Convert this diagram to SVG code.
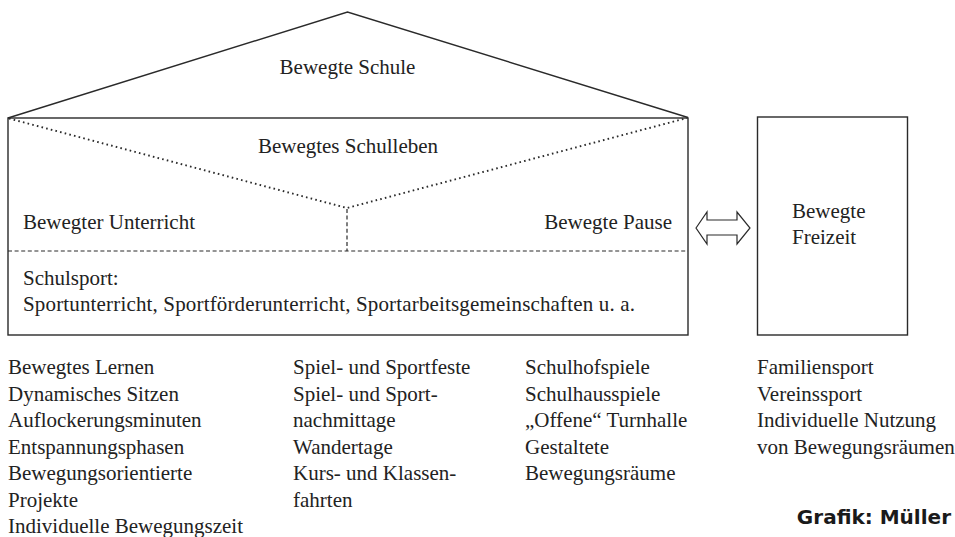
<svg xmlns="http://www.w3.org/2000/svg" width="955" height="537" viewBox="0 0 955 537">
  <style>
    .t { font-family: "Liberation Serif", "Times New Roman", serif; font-size: 21px; fill: #222; }
    .solid { fill: none; stroke: #2a2a2a; stroke-width: 1.4; }
    .dotted { fill: none; stroke: #2a2a2a; stroke-width: 1.9; stroke-dasharray: 1.6 3.2; }
    .dashed { fill: none; stroke: #2a2a2a; stroke-width: 1.2; stroke-dasharray: 4 2.6; }
    .credit { font-family: "DejaVu Sans", "Liberation Sans", sans-serif; font-size: 20px; font-weight: bold; fill: #1a1a1a; }
  </style>
  <rect width="955" height="537" fill="#ffffff"/>

  <g id="house">
    <polyline class="solid" points="8,118 347.5,12 688,117.5"/>
    <rect class="solid" x="8" y="118" width="680" height="217"/>
    <polyline class="dotted" points="9,118.5 347,208 687,118"/>
    <line class="dashed" x1="347" y1="209" x2="347" y2="251"/>
    <line class="dashed" x1="8" y1="251" x2="688" y2="251"/>
  </g>

  <g id="bewegte-schule">
    <text class="t" x="347.5" y="74" text-anchor="middle">Bewegte Schule</text>
  </g>
  <g id="bewegtes-schulleben">
    <text class="t" x="348" y="153" text-anchor="middle">Bewegtes Schulleben</text>
  </g>
  <g id="bewegter-unterricht">
    <text class="t" x="23" y="229">Bewegter Unterricht</text>
  </g>
  <g id="bewegte-pause">
    <text class="t" x="672" y="229" text-anchor="end">Bewegte Pause</text>
  </g>
  <g id="schulsport">
    <text class="t" x="23" y="285">Schulsport:</text>
    <text class="t" x="23" y="311" textLength="612" lengthAdjust="spacing">Sportunterricht, Sportförderunterricht, Sportarbeitsgemeinschaften u. a.</text>
  </g>

  <g id="bewegte-freizeit">
    <rect class="solid" x="757.5" y="117" width="150" height="218"/>
    <text class="t" x="792" y="218">Bewegte</text>
    <text class="t" x="792" y="243.5">Freizeit</text>
  </g>

  <g id="connectors">
    <polygon points="696,228 707,212 707,220 737,220 737,212 750,228 737,244 737,235 707,235 707,244" fill="#ffffff" stroke="#2a2a2a" stroke-width="1.2" stroke-linejoin="miter"/>
  </g>

  <g id="list-unterricht">
    <text class="t" x="8" y="374">Bewegtes Lernen</text>
    <text class="t" x="8" y="400.5">Dynamisches Sitzen</text>
    <text class="t" x="8" y="427">Auflockerungsminuten</text>
    <text class="t" x="8" y="453.5">Entspannungsphasen</text>
    <text class="t" x="8" y="480">Bewegungsorientierte</text>
    <text class="t" x="8" y="506.5">Projekte</text>
    <text class="t" x="8" y="533">Individuelle Bewegungszeit</text>
  </g>
  <g id="list-schulleben">
    <text class="t" x="293" y="374">Spiel- und Sportfeste</text>
    <text class="t" x="293" y="400.5">Spiel- und Sport-</text>
    <text class="t" x="293" y="427">nachmittage</text>
    <text class="t" x="293" y="453.5">Wandertage</text>
    <text class="t" x="293" y="480">Kurs- und Klassen-</text>
    <text class="t" x="293" y="506.5">fahrten</text>
  </g>
  <g id="list-pause">
    <text class="t" x="525" y="374">Schulhofspiele</text>
    <text class="t" x="525" y="400.5">Schulhausspiele</text>
    <text class="t" x="525" y="427">„Offene“ Turnhalle</text>
    <text class="t" x="525" y="453.5">Gestaltete</text>
    <text class="t" x="525" y="480">Bewegungsräume</text>
  </g>
  <g id="list-freizeit">
    <text class="t" x="757" y="374">Familiensport</text>
    <text class="t" x="757" y="400.5">Vereinssport</text>
    <text class="t" x="757" y="427">Individuelle Nutzung</text>
    <text class="t" x="757" y="453.5">von Bewegungsräumen</text>
  </g>

  <g id="credit">
    <text class="credit" x="951" y="524" text-anchor="end">Grafik: Müller</text>
  </g>
</svg>
